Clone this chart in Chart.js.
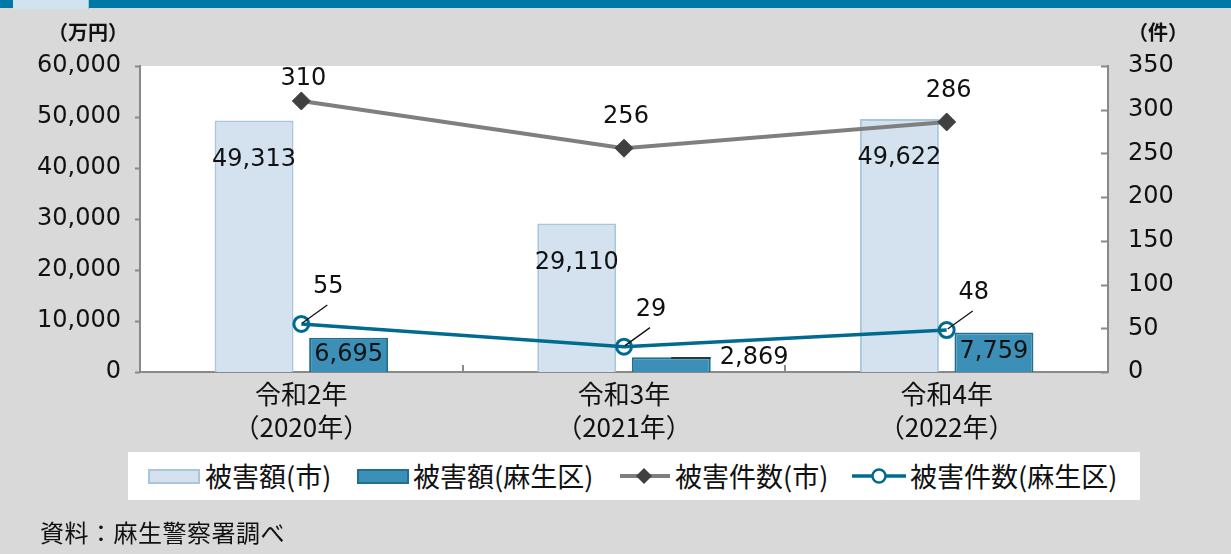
<!DOCTYPE html>
<html lang="ja">
<head>
<meta charset="utf-8">
<title>被害額・被害件数</title>
<script src="https://cdn.jsdelivr.net/npm/chart.js@4.4.1/dist/chart.umd.min.js"></script>
<style>
  html, body { margin: 0; padding: 0; }
  body {
    width: 1231px; height: 554px; overflow: hidden; position: relative;
    background: #d9d9d9;
    font-family: "Noto Sans CJK JP", "Noto Sans", sans-serif;
    color: #111;
  }
  .topbar { position: absolute; left: 0; top: 0; width: 1231px; height: 8px; background: #0078a6; }
  .tab { position: absolute; left: 13px; top: 0; width: 75px; height: 9px; background: #cfe4ee; border-right: 1px solid #9fc6d8; }
  #wrap { position: absolute; left: 0; top: 0; width: 1231px; height: 554px; }
  .unit { position: absolute; top: 19px; font-size: 20px; font-weight: bold; line-height: 26px; }
  .legend { position: absolute; left: 128px; top: 452px; width: 1012px; height: 48px; background: #fff; }
  .legend .item { position: absolute; top: 0; height: 48px; display: flex; align-items: center; }
  .legend .txt { font-size: 27px; line-height: 48px; white-space: nowrap; }
  .source { position: absolute; left: 40px; top: 516px; font-size: 24px; line-height: 32px; letter-spacing: 0.5px; }
</style>
</head>
<body>
<div class="topbar"></div>
<div class="tab"></div>
<div id="wrap"><canvas id="damageChart" width="1231" height="554"></canvas></div>
<div class="unit" style="left:48px;">（万円）</div>
<div class="unit" style="left:1128px;">（件）</div>

<div class="legend">
  <div class="item" style="left:20px;">
    <svg width="52" height="15"><rect x="1" y="1" width="50" height="13" fill="#d3e2ee" stroke="#a9c6dc" stroke-width="2"/></svg>
    <span class="txt" style="margin-left:5px;">被害額(市)</span>
  </div>
  <div class="item" style="left:229px;">
    <svg width="52" height="15"><rect x="1" y="1" width="50" height="13" fill="#3c8fb6" stroke="#1f6f93" stroke-width="2"/></svg>
    <span class="txt" style="margin-left:4px;">被害額(麻生区)</span>
  </div>
  <div class="item" style="left:492px;">
    <svg width="50" height="20"><line x1="0" y1="10" x2="50" y2="10" stroke="#7f7f7f" stroke-width="4"/><polygon points="24,2 32,10 24,18 16,10" fill="#404040"/></svg>
    <span class="txt" style="margin-left:5px;">被害件数(市)</span>
  </div>
  <div class="item" style="left:724px;">
    <svg width="54" height="20"><line x1="0" y1="10" x2="54" y2="10" stroke="#006b8f" stroke-width="3.5"/><circle cx="27" cy="10" r="6.5" fill="#fff" stroke="#006b8f" stroke-width="2.5"/></svg>
    <span class="txt" style="margin-left:4px;">被害件数(麻生区)</span>
  </div>
</div>

<div class="source">資料：麻生警察署調べ</div>

<script>
// data
const years = [['令和2年', '（2020年）'], ['令和3年', '（2021年）'], ['令和4年', '（2022年）']];
const cityAmount = [49313, 29110, 49622];     // 被害額(市) 万円
const asaoAmount = [6695, 2869, 7759];        // 被害額(麻生区) 万円
const cityCount = [310, 256, 286];            // 被害件数(市)
const asaoCount = [55, 29, 48];               // 被害件数(麻生区)

const numFont = '"DejaVu Sans", "Noto Sans", sans-serif';
const fmt = v => v.toLocaleString('en-US');

// white plot area
const plotBg = {
    id: 'plotBg',
    beforeDraw(chart) {
        const a = chart.chartArea;
        chart.ctx.save();
        chart.ctx.fillStyle = '#ffffff';
        chart.ctx.fillRect(a.left, a.top, a.right - a.left, a.bottom - a.top);
        chart.ctx.restore();
    }
};

// small tick marks on the axes
const axisTicks = {
    id: 'axisTicks',
    afterDraw(chart) {
        const ctx = chart.ctx;
        const a = chart.chartArea;
        const y = chart.scales.y, y2 = chart.scales.y2, x = chart.scales.x;
        ctx.save();
        ctx.strokeStyle = '#898989';
        ctx.lineWidth = 2;
        ctx.beginPath();
        y.ticks.forEach(t => {
            const py = Math.round(y.getPixelForValue(t.value)) + 0.5;
            ctx.moveTo(a.left - 5, py); ctx.lineTo(a.left, py);
        });
        y2.ticks.forEach(t => {
            const py = Math.round(y2.getPixelForValue(t.value)) + 0.5;
            ctx.moveTo(a.right - 7, py); ctx.lineTo(a.right, py);
        });
        for (let i = 0; i < years.length - 1; i++) {
            const px = Math.round((x.getPixelForValue(i) + x.getPixelForValue(i + 1)) / 2);
            ctx.moveTo(px, a.bottom); ctx.lineTo(px, a.bottom - 7);
        }
        ctx.stroke();
        ctx.restore();
    }
};

// value labels
const valueLabels = {
    id: 'valueLabels',
    afterDatasetsDraw(chart) {
        const ctx = chart.ctx;
        const a = chart.chartArea;
        ctx.save();
        ctx.font = '24px ' + numFont;
        ctx.fillStyle = '#111';
        ctx.strokeStyle = '#111';
        ctx.lineWidth = 1.3;
        ctx.textBaseline = 'middle';
        ctx.textAlign = 'center';

        chart.getDatasetMeta(0).data.forEach((bar, i) => {
            ctx.fillText(fmt(cityAmount[i]), bar.x, bar.y + 39);
        });

        chart.getDatasetMeta(1).data.forEach((bar, i) => {
            const h = bar.base - bar.y;
            if (h > 25) {
                ctx.textAlign = 'center';
                ctx.fillText(fmt(asaoAmount[i]), bar.x, (bar.y + bar.base) / 2);
            } else {
                const right = bar.x + bar.width / 2;
                ctx.beginPath();
                ctx.moveTo(bar.x, bar.y + 0.5); ctx.lineTo(right, bar.y + 0.5);
                ctx.stroke();
                ctx.textAlign = 'left';
                ctx.fillText(fmt(asaoAmount[i]), right + 9, bar.y);
            }
        });

        ctx.textAlign = 'center';
        chart.getDatasetMeta(2).data.forEach((pt, i) => {
            const ly = Math.max(pt.y - 31, a.top + 13);
            ctx.fillText(fmt(cityCount[i]), pt.x + 2, ly);
        });

        chart.getDatasetMeta(3).data.forEach((pt, i) => {
            ctx.beginPath();
            ctx.moveTo(pt.x + 1, pt.y - 1);
            ctx.lineTo(pt.x + 26, pt.y - 19);
            ctx.stroke();
            ctx.fillText(fmt(asaoCount[i]), pt.x + 27, pt.y - 37);
        });
        ctx.restore();
    }
};

const ctxDamage = document.getElementById('damageChart').getContext('2d');
const damageChart = new Chart(ctxDamage, {
    type: 'bar',
    data: {
        labels: years,
        datasets: [
            {
                label: '被害額(市)',
                data: cityAmount,
                backgroundColor: '#d3e2ee',
                borderColor: '#a9c6dc',
                borderWidth: 2,
                yAxisID: 'y',
                order: 2,
                categoryPercentage: 0.586,
                barPercentage: 0.835,
            },
            {
                label: '被害額(麻生区)',
                data: asaoAmount,
                backgroundColor: '#3c8fb6',
                borderColor: '#1f6f93',
                borderWidth: 2,
                yAxisID: 'y',
                order: 3,
                categoryPercentage: 0.586,
                barPercentage: 0.835,
            },
            {
                type: 'line',
                label: '被害件数(市)',
                data: cityCount,
                borderColor: '#7f7f7f',
                borderWidth: 4,
                pointStyle: 'rectRot',
                pointRadius: 9,
                pointBackgroundColor: '#404040',
                pointBorderColor: '#404040',
                pointBorderWidth: 1,
                yAxisID: 'y2',
                order: 1,
                fill: false,
            },
            {
                type: 'line',
                label: '被害件数(麻生区)',
                data: asaoCount,
                borderColor: '#006b8f',
                borderWidth: 3.5,
                pointStyle: 'circle',
                pointRadius: 7.5,
                pointBackgroundColor: 'rgba(255,255,255,0)',
                pointBorderColor: '#006b8f',
                pointBorderWidth: 3,
                yAxisID: 'y2',
                order: 0,
                fill: false,
            }
        ]
    },
    options: {
        responsive: false,
        animation: false,
        layout: { padding: { top: 66, left: 0, right: 0, bottom: 0 } },
        plugins: {
            legend: { display: false },
            tooltip: { enabled: false },
        },
        scales: {
            x: {
                grid: { display: false },
                border: { display: true, color: '#898989', width: 2 },
                ticks: {
                    color: '#111',
                    font: { family: '"Noto Sans CJK JP", sans-serif', size: 26, lineHeight: '33px' },
                    padding: -2,
                    maxRotation: 0,
                },
                afterFit: s => { s.height = 182; },
            },
            y: {
                position: 'left',
                min: 0, max: 60000,
                grid: { display: false },
                border: { display: true, color: '#898989', width: 2 },
                ticks: {
                    stepSize: 10000,
                    color: '#111',
                    font: { family: numFont, size: 24 },
                    padding: 11,
                    callback: v => fmt(v),
                },
                afterFit: s => { s.width = 140; },
            },
            y2: {
                position: 'right',
                min: 0, max: 350,
                grid: { display: false },
                border: { display: true, color: '#898989', width: 2 },
                ticks: {
                    stepSize: 50,
                    color: '#111',
                    font: { family: numFont, size: 24 },
                    padding: 12,
                },
                afterFit: s => { s.width = 123; },
            }
        }
    },
    plugins: [plotBg, axisTicks, valueLabels]
});
</script>
</body>
</html>
